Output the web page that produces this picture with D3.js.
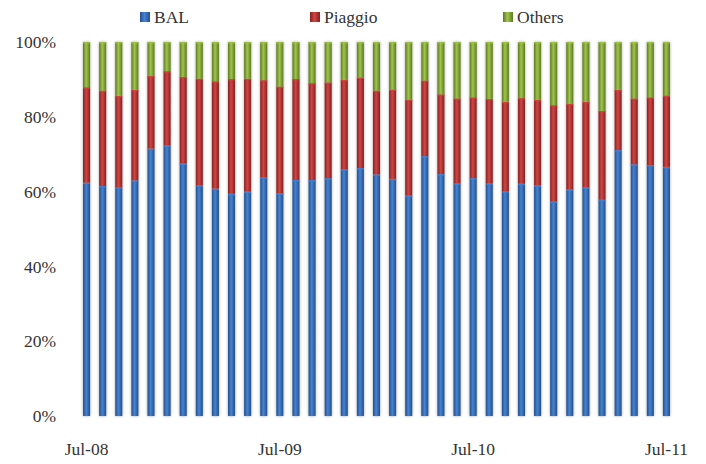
<!DOCTYPE html>
<html><head><meta charset="utf-8">
<script src="https://cdn.jsdelivr.net/npm/d3@7/dist/d3.min.js"></script>
<style>body{margin:0;background:#fff}svg{display:block}</style>
</head><body><svg id="c" width="706" height="464"></svg>
<script>
const months = ["Jul-08","Aug-08","Sep-08","Oct-08","Nov-08","Dec-08","Jan-09","Feb-09","Mar-09","Apr-09","May-09","Jun-09",
"Jul-09","Aug-09","Sep-09","Oct-09","Nov-09","Dec-09","Jan-10","Feb-10","Mar-10","Apr-10","May-10","Jun-10",
"Jul-10","Aug-10","Sep-10","Oct-10","Nov-10","Dec-10","Jan-11","Feb-11","Mar-11","Apr-11","May-11","Jun-11","Jul-11"];
const bal = [62.4,61.5,61.2,63.0,71.5,72.3,67.5,61.7,60.8,59.4,60.0,63.8,
59.5,63.1,63.1,63.6,66.0,66.3,64.6,63.4,58.9,69.5,64.7,62.2,
63.6,62.2,60.1,62.1,61.6,57.3,60.6,61.1,57.8,71.1,67.3,67.1,66.6];
const piaggio = [25.5,25.5,24.4,24.2,19.4,19.9,23.2,28.5,28.7,30.7,30.2,26.0,
28.6,27.0,25.9,25.6,23.9,24.2,22.4,23.9,25.7,20.2,21.3,22.7,
21.6,22.6,23.9,22.9,22.9,25.8,22.9,22.9,23.8,16.1,17.6,18.1,19.1];
const others = bal.map((b,i)=>+(100-b-piaggio[i]).toFixed(1));
const seriesNames = ["BAL","Piaggio","Others"];
const yTicks = [0,20,40,60,80,100];
const xTickLabels = ["Jul-08","Jul-09","Jul-10","Jul-11"];

const colors = {
  BAL:{edge:"#234f8c",mid:"#4683d2",base:"#3a72bd"},
  Piaggio:{edge:"#862020",mid:"#d04644",base:"#b83232"},
  Others:{edge:"#5c7a20",mid:"#a2c44c",base:"#86a83a"}
};

const svg = d3.select("#c");
const font = "'Palatino Linotype','Book Antiqua',Palatino,'Liberation Serif',serif";
const x = d3.scaleBand().domain(months).range([78.5, 674.5]).paddingInner(0.56).paddingOuter(0.28);
const y = d3.scaleLinear().domain([0,100]).range([416,42]);

const defs = svg.append("defs");
seriesNames.forEach(s=>{
  const g = defs.append("linearGradient").attr("id","g"+s).attr("x1","0").attr("x2","1").attr("y1","0").attr("y2","0");
  g.append("stop").attr("offset","0%").attr("stop-color",colors[s].edge);
  g.append("stop").attr("offset","45%").attr("stop-color",colors[s].mid);
  g.append("stop").attr("offset","100%").attr("stop-color",colors[s].edge);
});
const f = defs.append("filter").attr("id","sh").attr("x","-60%").attr("y","-5%").attr("width","220%").attr("height","110%");
f.append("feGaussianBlur").attr("in","SourceAlpha").attr("stdDeviation",1.6).attr("result","b");
f.append("feComponentTransfer").attr("in","b").attr("result","o2").append("feFuncA").attr("type","linear").attr("slope",0.35);
const fm = f.append("feMerge"); fm.append("feMergeNode").attr("in","o2"); fm.append("feMergeNode").attr("in","SourceGraphic");

const data = months.map((mo,i)=>({month:mo,BAL:bal[i],Piaggio:piaggio[i],Others:others[i]}));
const stack = d3.stack().keys(seriesNames)(data);

const gBars = svg.append("g").attr("filter","url(#sh)");
stack.forEach(layer=>{
  gBars.append("g").selectAll("rect").data(layer).join("rect")
    .attr("x",d=>x(d.data.month))
    .attr("width",x.bandwidth())
    .attr("y",d=>y(d[1]))
    .attr("height",d=>y(d[0])-y(d[1]))
    .attr("fill","url(#g"+layer.key+")");
  gBars.append("g").selectAll("rect").data(layer).join("rect")
    .attr("x",d=>x(d.data.month))
    .attr("width",x.bandwidth())
    .attr("y",d=>y(d[1]))
    .attr("height",1.5)
    .attr("fill",colors[layer.key].mid).attr("opacity",0.8);
});

const yAxis = d3.axisLeft(y).tickValues(yTicks).tickFormat(d=>d+"%").tickSize(0).tickPadding(0);
const ya = svg.append("g").attr("transform","translate(56,0)").call(yAxis);
ya.select(".domain").remove();
ya.selectAll("text").attr("font-family",font).attr("font-size",17.5).attr("fill","#333");

const xAxis = d3.axisBottom(x).tickValues(xTickLabels).tickSize(0).tickPadding(0);
const xa = svg.append("g").attr("transform","translate(0,443)").call(xAxis);
xa.select(".domain").remove();
xa.selectAll("text").attr("font-family",font).attr("font-size",17.5).attr("fill","#333");

const legendX = [140,310,503];
const lg = svg.append("g");
seriesNames.forEach((s,i)=>{
  lg.append("rect").attr("x",legendX[i]).attr("y",12).attr("width",10).attr("height",10)
    .attr("fill","url(#g"+s+")");
  lg.append("text").attr("x",legendX[i]+14).attr("y",17).attr("dy","0.35em")
    .attr("font-family",font).attr("font-size",17.5).attr("fill","#333").text(s);
});
</script></body></html>
